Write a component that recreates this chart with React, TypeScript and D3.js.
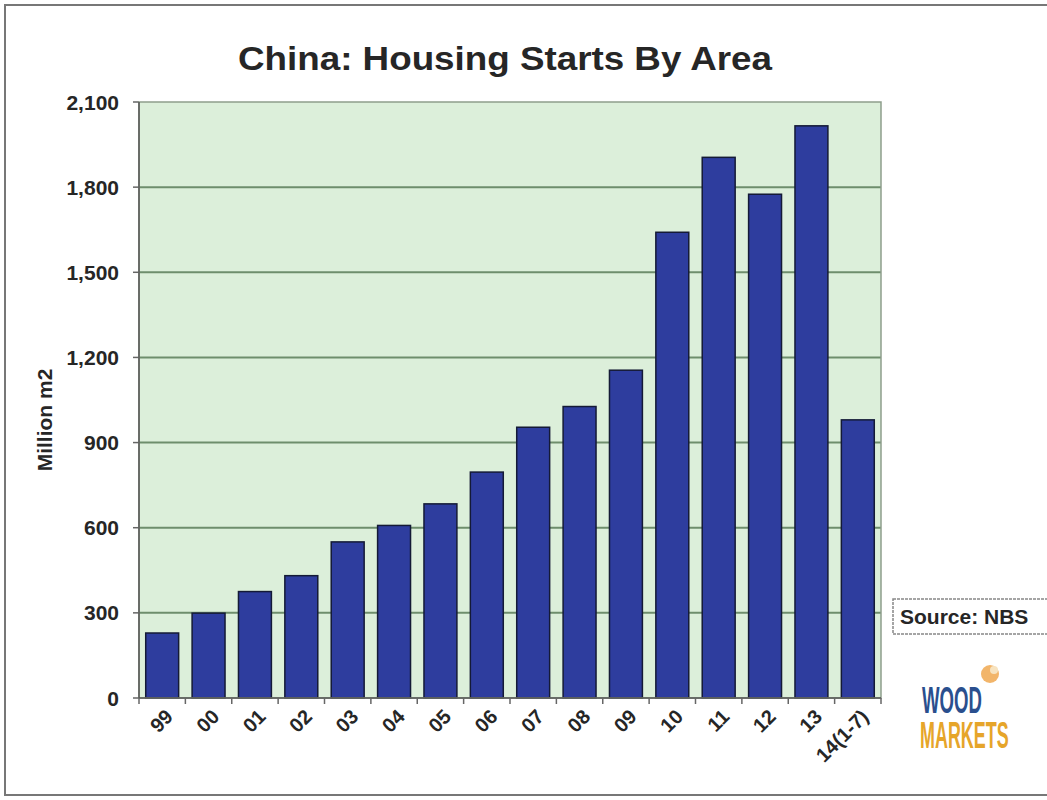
import React from "react";
import * as d3 from "d3";

const categories = ["99","00","01","02","03","04","05","06","07","08","09","10","11","12","13","14(1-7)"];
const values = [229, 299, 375, 431, 550, 608, 684, 796, 954, 1027, 1155, 1641, 1905, 1775, 2016, 980];
const yTicks = [0, 300, 600, 900, 1200, 1500, 1800, 2100];

const W = 1047, H = 800;
const plot = { left: 139, right: 881, top: 102, bottom: 698 };

export default function App() {
  const x = d3.scaleBand<string>().domain(categories).range([plot.left, plot.right]).paddingInner(0.29).paddingOuter(0.145);
  const xb = d3.scaleBand<string>().domain(categories).range([plot.left, plot.right]);
  const y = d3.scaleLinear().domain([0, 2100]).range([plot.bottom, plot.top]);
  const fmt = d3.format(",");
  const font = "'Liberation Sans', Arial, sans-serif";
  const ink = "#262626";
  return (
    <svg width={W} height={H} style={{ position: "absolute", left: 0, top: 0, background: "#fff" }}>
      <rect x={0} y={0} width={W} height={H} fill="#fff" />
      <path d={`M${W} 5 H5 V795 H${W}`} fill="none" stroke="#777" strokeWidth={2} />
      <text x={505} y={70} textAnchor="middle" fontFamily={font} fontWeight="bold" fontSize={34} fill={ink} textLength={534} lengthAdjust="spacingAndGlyphs">China: Housing Starts By Area</text>
      <rect x={plot.left} y={plot.top} width={plot.right - plot.left} height={plot.bottom - plot.top} fill="#dcefda" />
      {yTicks.map(t => (
        <g key={t}>
          {t > 0 && t < 2100 && <line x1={plot.left} x2={plot.right} y1={y(t)} y2={y(t)} stroke="#6e8e6c" strokeWidth={2} />}
          <line x1={plot.left - 6} x2={plot.left} y1={y(t)} y2={y(t)} stroke="#666" strokeWidth={1.5} />
          <text x={119} y={y(t) + 7.5} textAnchor="end" fontFamily={font} fontWeight="bold" fontSize={21} fill={ink}>{fmt(t)}</text>
        </g>
      ))}
      {categories.map((c, i) => (
        <rect key={c} x={x(c)} y={y(values[i])} width={x.bandwidth()} height={plot.bottom - y(values[i])} fill="#2e3d9e" stroke="#141a36" strokeWidth={1.5} />
      ))}
      <rect x={plot.left} y={plot.top} width={plot.right - plot.left} height={plot.bottom - plot.top} fill="none" stroke="#8e9e8c" strokeWidth={1.5} />
      <line x1={plot.left} x2={plot.left} y1={plot.top} y2={plot.bottom} stroke="#555" strokeWidth={1.5} />
      <line x1={plot.left} x2={plot.right} y1={plot.bottom} y2={plot.bottom} stroke="#555" strokeWidth={1.5} />
      {categories.map(c => (
        <line key={"t" + c} x1={(xb(c) as number)} x2={(xb(c) as number)} y1={plot.bottom} y2={plot.bottom + 6} stroke="#666" strokeWidth={1.5} />
      ))}
      <line x1={plot.right} x2={plot.right} y1={plot.bottom} y2={plot.bottom + 6} stroke="#666" strokeWidth={1.5} />
      {categories.map(c => {
        const cx = (x(c) as number) + x.bandwidth() / 2 + 12;
        const cy = plot.bottom + 20;
        return (
          <text key={"l" + c} x={cx} y={cy} textAnchor="end" transform={`rotate(-45 ${cx} ${cy})`} fontFamily={font} fontWeight="bold" fontSize={20} fill={ink}>{c}</text>
        );
      })}
      <text x={0} y={0} transform={`translate(52 ${420}) rotate(-90)`} textAnchor="middle" fontFamily={font} fontWeight="bold" fontSize={21} fill={ink}>Million m2</text>
      <rect x={893} y={599} width={160} height={35} fill="#fff" stroke="#888" strokeWidth={1.5} strokeDasharray="3 1" />
      <text x={900} y={624} fontFamily={font} fontWeight="bold" fontSize={21} fill={ink}>Source: NBS</text>
      <g>
        <circle cx={990} cy={674} r={9} fill="#f0a850" opacity={0.85} />
        <circle cx={994} cy={670} r={4} fill="#f7e3c0" />
        <text transform="translate(922 713) scale(0.64 1.3)" fontFamily={font} fontWeight="bold">
          <tspan x={0} y={0} fontSize={29} fill="#2a4f8e">WOOD</tspan>
          <tspan x={-3} y={27} fontSize={28} fill="#e6a52a">MARKETS</tspan>
        </text>
      </g>
    </svg>
  );
}
